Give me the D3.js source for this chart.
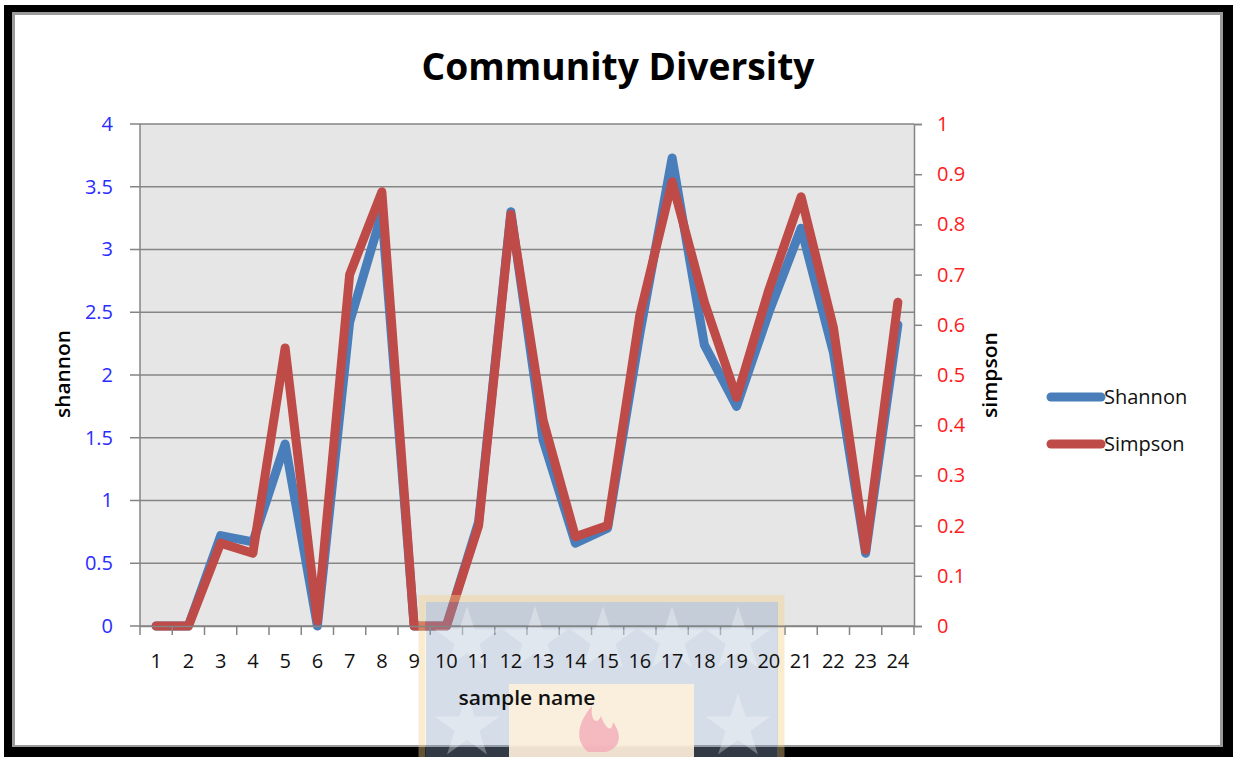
<!DOCTYPE html>
<html><head><meta charset="utf-8">
<script src="https://cdn.jsdelivr.net/npm/d3@7"></script>
<style>body{margin:0;background:#fff}svg{display:block}</style>
</head><body>
<script>
const categories = ["1","2","3","4","5","6","7","8","9","10","11","12","13","14","15","16","17","18","19","20","21","22","23","24"];
const shannon = [0,0,0.72,0.67,1.45,0,2.42,3.29,0,0,0.83,3.3,1.48,0.66,0.78,2.33,3.73,2.24,1.75,2.5,3.17,2.18,0.58,2.4];
const simpson = [0,0,0.165,0.145,0.554,0.01,0.70,0.865,0,0,0.2,0.82,0.41,0.178,0.2,0.62,0.885,0.645,0.455,0.67,0.855,0.595,0.151,0.645];
const leftTicks = [0,0.5,1,1.5,2,2.5,3,3.5,4];
const rightTicks = [0,0.1,0.2,0.3,0.4,0.5,0.6,0.7,0.8,0.9,1];
const seriesNames = ["Shannon","Simpson"];
const colors = ["#4a7ebb","#be4b48"];

const W=1236,H=757;
const svg=d3.select("body").append("svg").attr("width",W).attr("height",H);
const font="'Open Sans', sans-serif";

// frame
svg.append("rect").attr("x",0).attr("y",0).attr("width",W).attr("height",H).attr("fill","#fff");
svg.append("rect").attr("x",4).attr("y",5).attr("width",1229).attr("height",752).attr("fill","#000");
svg.append("rect").attr("x",12).attr("y",12).attr("width",1211).attr("height",735).attr("fill","#9a9a9a");
svg.append("rect").attr("x",15).attr("y",15).attr("width",1205).attr("height",730).attr("fill","#fff");

const L=140,R=914,T=124,B=626;
const x=d3.scaleBand().domain(categories).range([L,R]);
const yL=d3.scaleLinear().domain([0,4]).range([B,T]);
const yR=d3.scaleLinear().domain([0,1]).range([B,T]);

svg.append("rect").attr("x",L).attr("y",T).attr("width",R-L).attr("height",B-T).attr("fill","#e6e6e6");

// gridlines
svg.append("g").selectAll("line").data(leftTicks).join("line")
 .attr("x1",L-10).attr("x2",R).attr("y1",d=>yL(d)).attr("y2",d=>yL(d))
 .attr("stroke","#858585").attr("stroke-width",1.5);
svg.append("line").attr("x1",L).attr("x2",L).attr("y1",T).attr("y2",B+1).attr("stroke","#858585").attr("stroke-width",1.5);

// lines
const cx=c=>x(c)+x.bandwidth()/2;
const lineL=d3.line().x((d,i)=>cx(categories[i])).y(d=>yL(d));
const lineR=d3.line().x((d,i)=>cx(categories[i])).y(d=>yR(d));
svg.append("path").attr("d",lineL(shannon)).attr("fill","none").attr("stroke",colors[0]).attr("stroke-width",9).attr("stroke-linejoin","round").attr("stroke-linecap","round");
svg.append("path").attr("d",lineR(simpson)).attr("fill","none").attr("stroke",colors[1]).attr("stroke-width",9).attr("stroke-linejoin","round").attr("stroke-linecap","round");

// right axis line & ticks
const gr=svg.append("g").attr("transform",`translate(${R},0)`)
 .call(d3.axisRight(yR).tickValues(rightTicks).tickSize(8).tickPadding(15).tickFormat(d3.format("~g")));
gr.select(".domain").attr("stroke","#858585").attr("stroke-width",1.5);
gr.selectAll(".tick line").attr("stroke","#858585").attr("stroke-width",1.5);
gr.selectAll("text").attr("fill","#ff1a1a").attr("font-size",20).attr("font-family",font);

// x axis
const gx=svg.append("g").attr("transform",`translate(0,${B})`)
 .call(d3.axisBottom(x).tickSize(0).tickPadding(28));
const bounds=categories.map(c=>x(c)).concat([R]);
svg.append("g").selectAll("line").data(bounds).join("line")
 .attr("x1",d=>d).attr("x2",d=>d).attr("y1",B).attr("y2",B+9)
 .attr("stroke","#858585").attr("stroke-width",1.5);

// watermark (decorative logo overlay)
const wm=svg.append("g").attr("pointer-events","none");
wm.append("rect").attr("x",422).attr("y",598.5).attr("width",359).attr("height",170)
 .attr("fill","none").attr("stroke","#f5cf86").attr("stroke-width",7).attr("opacity",0.4);
wm.append("rect").attr("x",426).attr("y",602).attr("width",352).attr("height",155).attr("fill","#8aa0bf").attr("opacity",0.36);
wm.append("rect").attr("x",509).attr("y",684).attr("width",185).attr("height",73).attr("fill","#fdefdb").attr("opacity",0.92);
const stars=[[467,640],[535,640],[603,640],[672,640],[738,640],[467,727],[738,727]];
wm.selectAll("path.star").data(stars).join("path").attr("class","star")
 .attr("d",d3.symbol(d3.symbolStar,1300)).attr("transform",d=>`translate(${d[0]},${d[1]})`)
 .attr("fill","#fff").attr("opacity",0.3);
wm.append("path").attr("d","M588,752 C574,740 578,722 592,706 C590,720 597,726 601,716 C605,728 612,734 613,722 C623,736 620,748 606,752 Z")
 .attr("fill","#f3a7b5").attr("opacity",0.75);

// axis texts on top
gx.raise();
gx.select(".domain").attr("stroke","#858585").attr("stroke-width",1.5);
gx.selectAll("text").attr("fill","#111").attr("font-size",20).attr("font-family",font);

const gl=svg.append("g").attr("transform",`translate(${L},0)`)
 .call(d3.axisLeft(yL).tickValues(leftTicks).tickSize(0).tickPadding(27).tickFormat(d3.format("~g")));
gl.select(".domain").remove();
gl.selectAll("text").attr("fill","#2b2bff").attr("font-size",20).attr("font-family",font);

// titles
svg.append("text").attr("x",618).attr("y",80).attr("text-anchor","middle").attr("font-family",font)
 .attr("font-weight","bold").attr("font-size",38).attr("fill","#000")
 .attr("textLength",393).attr("lengthAdjust","spacingAndGlyphs").text("Community Diversity");
svg.append("text").attr("transform","translate(70,374) rotate(-90)").attr("text-anchor","middle")
 .attr("font-family",font).attr("font-weight",600).attr("font-size",20).attr("fill","#000")
 .attr("textLength",88).attr("lengthAdjust","spacingAndGlyphs").text("shannon");
svg.append("text").attr("transform","translate(997,375) rotate(-90)").attr("text-anchor","middle")
 .attr("font-family",font).attr("font-weight",600).attr("font-size",20).attr("fill","#000")
 .attr("textLength",86).attr("lengthAdjust","spacingAndGlyphs").text("simpson");
svg.append("text").attr("x",527).attr("y",705).attr("text-anchor","middle")
 .attr("font-family",font).attr("font-weight",600).attr("font-size",19).attr("fill","#111")
 .attr("textLength",137).attr("lengthAdjust","spacingAndGlyphs").text("sample name");

// legend
const lg=svg.append("g").selectAll("g").data(seriesNames).join("g")
 .attr("transform",(d,i)=>`translate(1051,${397+i*47})`);
lg.append("line").attr("x1",0).attr("x2",50).attr("stroke",(d,i)=>colors[i]).attr("stroke-width",9).attr("stroke-linecap","round");
lg.append("text").attr("x",53).attr("y",7).attr("font-family",font).attr("font-size",20).attr("fill","#111").text(d=>d);
</script>
</body></html>
